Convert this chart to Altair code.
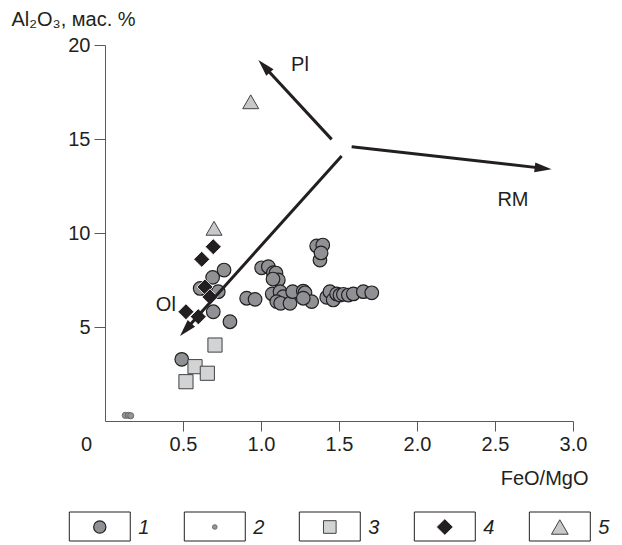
import math
import altair as alt
import pandas as pd

# ---------------- data (FeO/MgO, Al2O3 wt.%) ----------------
s1_x = [0.492, 0.694, 0.801, 0.635, 0.726, 0.690, 0.763, 0.61,
        0.908, 0.962,
        1.004, 1.047, 1.079, 1.096, 1.111, 1.077,
        1.072, 1.122, 1.143, 1.101, 1.126, 1.186, 1.203, 1.271, 1.282, 1.325, 1.271,
        1.357, 1.396, 1.378, 1.385,
        1.421, 1.442, 1.463, 1.485, 1.506, 1.528, 1.560, 1.592, 1.656, 1.71]
s1_y = [3.28, 5.81, 5.28, 7.06, 6.88, 7.64, 8.03, 7.05,
        6.53, 6.47,
        8.15, 8.21, 7.89, 7.87, 7.50, 7.55,
        6.76, 6.88, 6.61, 6.35, 6.26, 6.26, 6.88, 6.91, 6.82, 6.35, 6.53,
        9.31, 9.36, 8.56, 8.94,
        6.58, 6.88, 6.44, 6.76, 6.70, 6.74, 6.70, 6.76, 6.88, 6.82]

s2_x = [0.13, 0.15, 0.165]
s2_y = [0.30, 0.30, 0.28]

s3_x = [0.705, 0.577, 0.656, 0.519]
s3_y = [4.04, 2.89, 2.54, 2.09]

s4_x = [0.694, 0.620, 0.641, 0.673, 0.519, 0.598]
s4_y = [9.27, 8.60, 7.13, 6.60, 5.81, 5.55]

s5_x = [0.699, 0.934]
s5_y = [10.25, 16.98]

arrow_names = ["Pl", "RM", "Ol"]
arrow_x0 = [1.453, 1.581, 1.517]
arrow_y0 = [14.98, 14.59, 14.10]
arrow_x1 = [0.983, 2.863, 0.481]
arrow_y1 = [19.20, 13.39, 4.52]
label_x = [1.25, 2.615, 0.39]
label_y = [18.94, 11.76, 6.15]

legend_keys = ["1", "2", "3", "4", "5"]

x_ticks = [0, 0.5, 1.0, 1.5, 2.0, 2.5, 3.0]
y_ticks = [5, 10, 15, 20]
x_domain = [0, 3]
y_domain = [0, 20]

# ---------------- layout / style ----------------
W, H = 468, 376
FONT = "Liberation Sans"
INK = "#231f20"
AXC = "#58595b"

xs = alt.Scale(domain=x_domain, nice=False, zero=False)
ys = alt.Scale(domain=y_domain, nice=False, zero=False)

x_axis = alt.Axis(
    values=x_ticks,
    labelExpr="datum.value == 0 ? '0' : format(datum.value, '.1f')",
    labelFlush=False, tickSize=10, labelPadding=3,
    labelFont=FONT, labelFontSize=20, labelColor=INK,
    domainColor=AXC, tickColor=AXC, grid=False,
    labelOffset={"condition": {"test": "datum.value === 0", "value": -19}, "value": 0},
    tickOpacity={"condition": {"test": "datum.value === 0", "value": 0}, "value": 1},
    titleFont=FONT, titleFontSize=20, titleFontWeight="normal", titleColor=INK,
    titleX=483, titleY=63, titleAlign="right", titleBaseline="alphabetic",
)
y_axis = alt.Axis(
    values=y_ticks, tickSize=11, labelPadding=4,
    labelFont=FONT, labelFontSize=20, labelColor=INK,
    domainColor=AXC, tickColor=AXC, grid=False,
    titleFont=FONT, titleFontSize=20, titleFontWeight="normal", titleColor=INK,
    titleAngle=0, titleAlign="left", titleBaseline="alphabetic",
    titleX=-94, titleY=-20,
)

X = alt.X("x:Q", scale=xs, axis=x_axis, title="FeO/MgO")
Y = alt.Y("y:Q", scale=ys, axis=y_axis, title="Al₂O₃, мас. %")


def pts(xv, yv):
    return pd.DataFrame({"x": xv, "y": yv})


# marker styles per series: (shape, fill, stroke, strokeWidth, size in plot, size in legend)
STY = {
    "1": ("circle", "#8f9194", INK, 1.2, 185, 150),
    "2": ("circle", "#939598", "#58595b", 0.8, 38, 22),
    "3": ("square", "#d1d3d4", "#414042", 1.0, 200, 160),
    "4": ("diamond", INK, "white", 0.8, 256, 280),
    "5": ("triangle-up", "#c7c8ca", "#414042", 1.0, 256, 280),
}


def series(k, xv, yv):
    sh, fi, st, sw, sz, _ = STY[k]
    return alt.Chart(pts(xv, yv)).mark_point(
        shape=sh, filled=True, fill=fi, stroke=st, strokeWidth=sw,
        size=sz, opacity=1).encode(x=X, y=Y)


l1 = series("1", s1_x, s1_y)
l2 = series("2", s2_x, s2_y)
l3 = series("3", s3_x, s3_y)
l4 = series("4", s4_x, s4_y)
l5 = series("5", s5_x, s5_y)

# arrows: direction in pixel space from scale factors
kx = W / (x_domain[1] - x_domain[0])
ky = H / (y_domain[1] - y_domain[0])
rows = []
for n, a, b, c, d in zip(arrow_names, arrow_x0, arrow_y0, arrow_x1, arrow_y1):
    dxp = (c - a) * kx
    dyp = -(d - b) * ky
    L = math.hypot(dxp, dyp)
    ang = math.degrees(math.atan2(dxp, -dyp)) % 360
    back = 8.0
    xe = c - dxp / L * back / kx
    ye = d + dyp / L * back / ky
    rows.append({"name": n, "x": a, "y": b, "x2": xe, "y2": ye,
                 "tx": c, "ty": d, "ang": ang})
arr = pd.DataFrame(rows)

shafts = alt.Chart(arr).mark_rule(color=INK, strokeWidth=3).encode(
    x=X, y=Y, x2="x2:Q", y2="y2:Q")
heads = alt.Chart(arr).mark_point(
    shape="M0,0L0.58,2L-0.58,2Z", filled=True, fill=INK, strokeWidth=0,
    size=289, opacity=1).encode(
    x=alt.X("tx:Q", scale=xs, axis=x_axis, title="FeO/MgO"),
    y=alt.Y("ty:Q", scale=ys, axis=y_axis, title="Al₂O₃, мас. %"),
    angle=alt.Angle("ang:Q", scale=None))
labels = alt.Chart(pd.DataFrame({"x": label_x, "y": label_y, "t": arrow_names})).mark_text(
    font=FONT, fontSize=20, color=INK, align="center", baseline="middle").encode(
    x=X, y=Y, text="t:N")

main = alt.layer(l1, l2, l3, l4, l5, shafts, heads, labels)

# ---------------- boxed legend ----------------
leg = pd.DataFrame({"k": legend_keys})
LX = alt.X("k:N", scale=alt.Scale(type="band", domain=legend_keys, range=[-35.7, 485.3],
                                   paddingInner=0.47, paddingOuter=0), axis=None)
box = alt.Chart(leg).mark_rect(fill="white", stroke=INK, strokeWidth=1).encode(
    x=LX, y=alt.value(467), y2=alt.value(496))

sym_layers = []
for k in legend_keys:
    sh, fi, st, sw, _, lsz = STY[k]
    sym_layers.append(
        alt.Chart(leg).transform_filter(alt.datum.k == k).mark_point(
            shape=sh, filled=True, fill=fi, stroke=st, strokeWidth=sw,
            size=lsz, opacity=1).encode(x=LX, y=alt.value(482)))

lab = alt.Chart(leg).mark_text(align="left", baseline="middle", dx=38.5, font=FONT,
                               fontSize=20, fontStyle="italic", color=INK).encode(
    x=LX, y=alt.value(482.5), text="k:N")
legend = alt.layer(box, *sym_layers, lab)

chart = alt.layer(main, legend).resolve_scale(x="independent", y="independent").properties(
    width=W, height=H,
    autosize=alt.AutoSizeParams(type="none"),
    padding={"left": 105, "top": 45, "right": 622 - 105 - W, "bottom": 545 - 45 - H},
).configure_view(stroke=None)

chart.save("out.html", embed_options={"renderer": "svg", "actions": False})
